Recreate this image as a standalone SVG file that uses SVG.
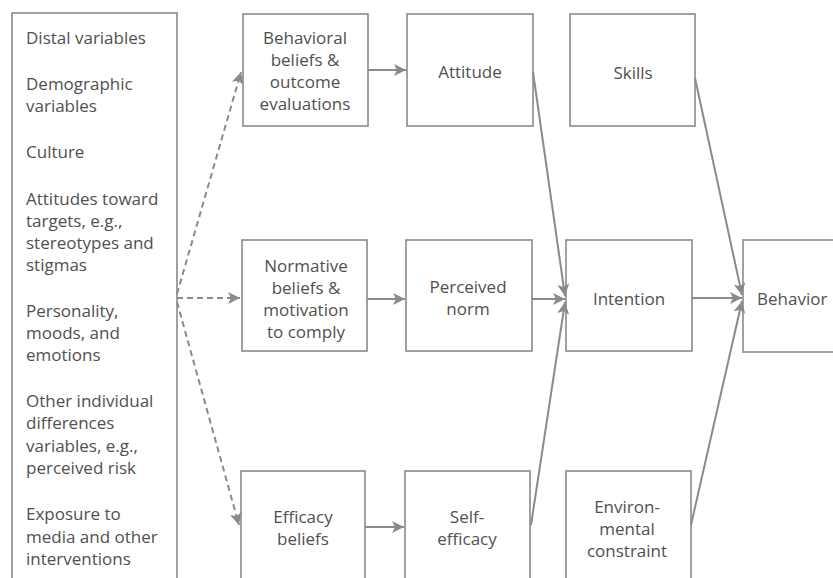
<svg xmlns="http://www.w3.org/2000/svg" width="833" height="578" viewBox="0 0 833 578">
<defs>
<style>
.box{fill:#fff;stroke:#8a8a8a;stroke-width:1.6}
.t{font-family:"Open Sans","Noto Sans",sans-serif;font-size:17px;fill:#505050}
.c{text-anchor:middle}
.ln{fill:none;stroke:#8a8a8a;stroke-width:2}
.dash{stroke-dasharray:6 4}
</style>
<marker id="ah" viewBox="0 0 10 10" refX="10" refY="5" markerWidth="12" markerHeight="12" markerUnits="userSpaceOnUse" orient="auto">
<path d="M0,0 L10,5 L0,10 L2.5,5 Z" fill="#8a8a8a"/>
</marker>
</defs>
<rect width="833" height="578" fill="#fff"/>
<g id="distal">
<rect class="box" x="12" y="13" width="165" height="580"/>
<text class="t">
<tspan x="26" y="44">Distal variables</tspan>
<tspan x="26" y="90">Demographic</tspan>
<tspan x="26" y="112">variables</tspan>
<tspan x="26" y="158">Culture</tspan>
<tspan x="26" y="205">Attitudes toward</tspan>
<tspan x="26" y="227">targets, e.g.,</tspan>
<tspan x="26" y="249">stereotypes and</tspan>
<tspan x="26" y="271">stigmas</tspan>
<tspan x="26" y="317">Personality,</tspan>
<tspan x="26" y="339">moods, and</tspan>
<tspan x="26" y="361">emotions</tspan>
<tspan x="26" y="407">Other individual</tspan>
<tspan x="26" y="429">differences</tspan>
<tspan x="26" y="452">variables, e.g.,</tspan>
<tspan x="26" y="474">perceived risk</tspan>
<tspan x="26" y="520">Exposure to</tspan>
<tspan x="26" y="543">media and other</tspan>
<tspan x="26" y="565">interventions</tspan>
</text>
</g>
<g id="behavioral-beliefs">
<rect class="box" x="243" y="14" width="125" height="112"/>
<text class="t c"><tspan x="305" y="44">Behavioral</tspan><tspan x="305" y="66">beliefs &amp;</tspan><tspan x="305" y="88">outcome</tspan><tspan x="305" y="110">evaluations</tspan></text>
</g>
<g id="attitude">
<rect class="box" x="407" y="14" width="126" height="112"/>
<text class="t c" x="470" y="78">Attitude</text>
</g>
<g id="skills">
<rect class="box" x="570" y="14" width="125" height="112"/>
<text class="t c" x="633" y="79">Skills</text>
</g>
<g id="normative-beliefs">
<rect class="box" x="242" y="240" width="125" height="111"/>
<text class="t c"><tspan x="306" y="272">Normative</tspan><tspan x="306" y="294">beliefs &amp;</tspan><tspan x="306" y="316">motivation</tspan><tspan x="306" y="338">to comply</tspan></text>
</g>
<g id="perceived-norm">
<rect class="box" x="406" y="240" width="126" height="111"/>
<text class="t c"><tspan x="468" y="293">Perceived</tspan><tspan x="468" y="315">norm</tspan></text>
</g>
<g id="intention">
<rect class="box" x="566" y="240" width="126" height="111"/>
<text class="t c" x="629" y="305">Intention</text>
</g>
<g id="behavior">
<rect class="box" x="743" y="240" width="110" height="112"/>
<text class="t" x="757" y="305">Behavior</text>
</g>
<g id="efficacy-beliefs">
<rect class="box" x="241" y="471" width="124" height="130"/>
<text class="t c"><tspan x="303" y="523">Efficacy</tspan><tspan x="303" y="545">beliefs</tspan></text>
</g>
<g id="self-efficacy">
<rect class="box" x="405" y="471" width="125" height="130"/>
<text class="t c"><tspan x="467" y="523">Self-</tspan><tspan x="467" y="545">efficacy</tspan></text>
</g>
<g id="environmental-constraint">
<rect class="box" x="566" y="471" width="125" height="130"/>
<text class="t c"><tspan x="627" y="513">Environ-</tspan><tspan x="627" y="535">mental</tspan><tspan x="627" y="557">constraint</tspan></text>
</g>
<g id="connectors">
<line class="ln dash" x1="177" y1="294" x2="241" y2="72" marker-end="url(#ah)"/>
<line class="ln dash" x1="177" y1="298" x2="240" y2="298" marker-end="url(#ah)"/>
<line class="ln dash" x1="177" y1="302" x2="239" y2="525" marker-end="url(#ah)"/>
<line class="ln" x1="368" y1="70" x2="406" y2="70" marker-end="url(#ah)"/>
<line class="ln" x1="367" y1="299" x2="405" y2="299" marker-end="url(#ah)"/>
<line class="ln" x1="365" y1="527" x2="404" y2="527" marker-end="url(#ah)"/>
<line class="ln" x1="533" y1="72" x2="565" y2="296" marker-end="url(#ah)"/>
<line class="ln" x1="532" y1="299" x2="565" y2="299" marker-end="url(#ah)"/>
<line class="ln" x1="531" y1="525" x2="565" y2="302" marker-end="url(#ah)"/>
<line class="ln" x1="692" y1="298" x2="742" y2="298" marker-end="url(#ah)"/>
<line class="ln" x1="695" y1="78" x2="742" y2="295" marker-end="url(#ah)"/>
<line class="ln" x1="691" y1="525" x2="742" y2="301" marker-end="url(#ah)"/>
</g>
</svg>
